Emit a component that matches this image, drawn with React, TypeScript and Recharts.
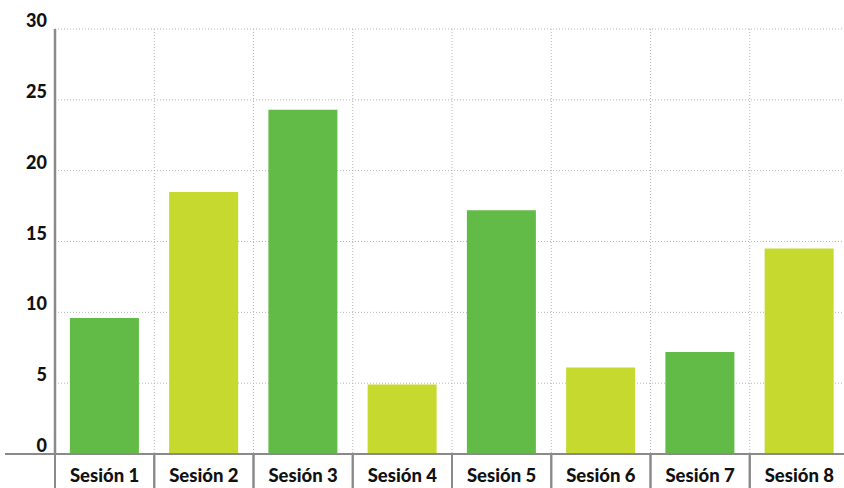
import { BarChart, Bar, XAxis, YAxis, CartesianGrid, Cell } from 'recharts';

const sessions = ['Sesión 1', 'Sesión 2', 'Sesión 3', 'Sesión 4', 'Sesión 5', 'Sesión 6', 'Sesión 7', 'Sesión 8'];
const values = [9.6, 18.5, 24.3, 4.9, 17.2, 6.1, 7.2, 14.5];
const yTicks = [0, 5, 10, 15, 20, 25, 30];

const palette = ['#63bb47', '#c6d92f'];
const data = sessions.map((name, i) => ({ name, value: values[i] }));

const CHART_W = 850;
const CHART_H = 488;
const Y_W = 55;
const MARGIN = { top: 29, right: 1, left: 0, bottom: 0 };
const BAND = (CHART_W - Y_W - MARGIN.right) / sessions.length;
const AXIS = '#8a8a8a';
const FONT = 'Lato, "Open Sans", sans-serif';

const XTick = (props: any) => {
  const { x, y, payload, index } = props;
  const left = x - BAND / 2;
  const right = x + BAND / 2;
  return (
    <g>
      {index === 0 && <line x1={left - 50} x2={left} y1={y} y2={y} stroke={AXIS} strokeWidth={2} />}
      <line x1={left} x2={left} y1={y} y2={y + 40} stroke={AXIS} strokeWidth={2} />
      <line x1={right} x2={right} y1={y} y2={y + 40} stroke={AXIS} strokeWidth={2} />
      <text x={x} y={y + 28} textAnchor="middle" fontFamily={FONT} fontWeight={900} fontSize={18.5} fill="#111">
        {payload.value}
      </text>
    </g>
  );
};

const YTick = (props: any) => {
  const { x, y, payload } = props;
  return (
    <text x={x} y={y - 2} textAnchor="end" fontFamily={FONT} fontWeight={900} fontSize={18} fill="#111">
      {payload.value}
    </text>
  );
};

export default function App() {
  return (
    <div style={{ position: 'absolute', left: 0, top: 0, width: 844, height: 488, overflow: 'hidden', background: '#fff' }}>
      <BarChart width={CHART_W} height={CHART_H} data={data} margin={MARGIN} barCategoryGap="15%">
        <CartesianGrid
          stroke="#b5b5b5"
          strokeDasharray="1 2"
          verticalCoordinatesGenerator={({ offset }: any) =>
            sessions.map((_, i) => offset.left + ((i + 1) * offset.width) / sessions.length)
          }
        />
        <XAxis
          dataKey="name"
          height={CHART_H - MARGIN.top - 425}
          axisLine={{ stroke: AXIS, strokeWidth: 2 }}
          tickLine={false}
          tickSize={0}
          tickMargin={0}
          tick={<XTick />}
          interval={0}
        />
        <YAxis
          width={Y_W}
          domain={[0, 30]}
          ticks={yTicks}
          axisLine={{ stroke: AXIS, strokeWidth: 2.5 }}
          tickLine={false}
          tickSize={0}
          tickMargin={8}
          tick={<YTick />}
        />
        <Bar dataKey="value" isAnimationActive={false}>
          {data.map((_, i) => (
            <Cell key={i} fill={palette[i % 2]} />
          ))}
        </Bar>
      </BarChart>
    </div>
  );
}
